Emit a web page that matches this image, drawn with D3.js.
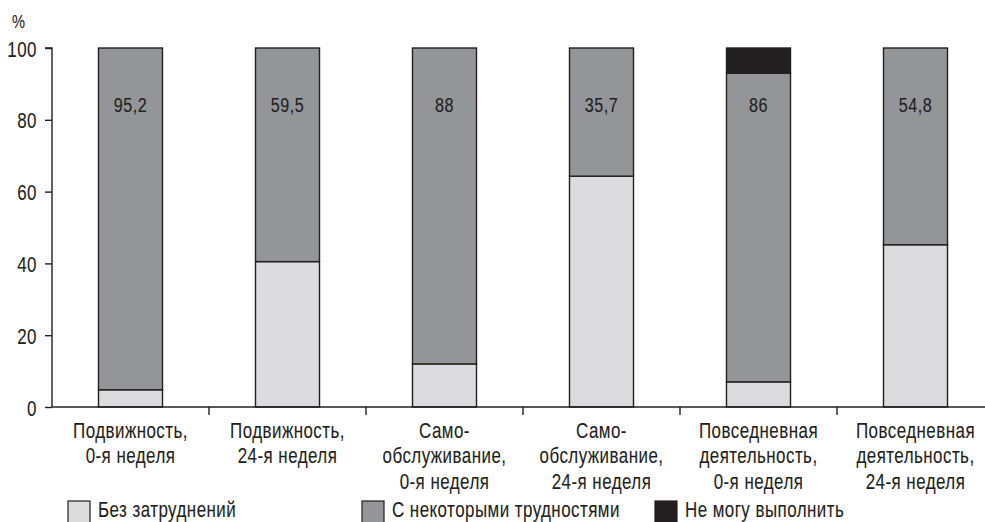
<!DOCTYPE html>
<html>
<head>
<meta charset="utf-8">
<script src="https://cdn.jsdelivr.net/npm/d3@7"></script>
<style>
  html, body { margin: 0; padding: 0; background: #fff; }
  svg text { font-family: "Liberation Sans", Arial, sans-serif; fill: #231f20; stroke: #231f20; stroke-width: 0.12px; letter-spacing: 0.6px; }
</style>
</head>
<body>
<svg id="chart" width="985" height="522"></svg>
<script>
// Categories (multi-line axis labels)
const categories = [
  ["Подвижность,", "0-я неделя"],
  ["Подвижность,", "24-я неделя"],
  ["Само-", "обслуживание,", "0-я неделя"],
  ["Само-", "обслуживание,", "24-я неделя"],
  ["Повседневная", "деятельность,", "0-я неделя"],
  ["Повседневная", "деятельность,", "24-я неделя"]
];
// Shares of patients, %
const noDifficulty   = [4.8, 40.5, 12, 64.3, 7, 45.2];
const someDifficulty = [95.2, 59.5, 88, 35.7, 86, 54.8];
const unable         = [0, 0, 0, 0, 7, 0];
const seriesNames = ["Без затруднений", "С некоторыми трудностями", "Не могу выполнить"];
const seriesColors = ["#dcdcde", "#939598", "#231f20"];
const yTicks = [0, 20, 40, 60, 80, 100];

const svg = d3.select("#chart");
const W = 985;
const plotLeft = 52, plotTop = 48, plotBottom = 407;
const ink = "#231f20";
const SX = 0.77; // narrow face: horizontal condensing of the type

// Place a text at (x, y) using a transform so it can be condensed horizontally
function condense(sel) {
  sel.each(function () {
    const t = d3.select(this);
    const tx = +t.attr("x") || 0, ty = +t.attr("y") || 0;
    t.attr("x", 0).attr("y", 0)
      .attr("transform", `translate(${tx},${ty}) scale(${SX},1)`);
    t.selectAll("tspan").attr("x", 0);
  });
}

const x = d3.scaleBand()
  .domain(d3.range(categories.length))
  .range([plotLeft, plotLeft + 157 * categories.length]);
const y = d3.scaleLinear().domain([0, 100]).range([plotBottom, plotTop]);

// Stacked data
const rows = categories.map((c, i) => ({ i, a: noDifficulty[i], b: someDifficulty[i], c: unable[i] }));
const stack = d3.stack().keys(["a", "b", "c"])(rows);

const barW = 64;
const g = svg.append("g");
stack.forEach((layer, k) => {
  g.selectAll(null).data(layer.filter(d => d[1] - d[0] > 0)).enter().append("rect")
    .attr("x", d => x(d.data.i) + x.bandwidth() / 2 - barW / 2)
    .attr("y", d => y(d[1]))
    .attr("width", barW)
    .attr("height", d => y(d[0]) - y(d[1]))
    .attr("fill", seriesColors[k])
    .attr("stroke", ink)
    .attr("stroke-width", 1.4);
});

// Value labels for the middle series, set at a common level
const labelLevel = 84;
const fmt = v => String(v).replace(".", ",");
svg.selectAll(null).data(rows).enter().append("text")
  .attr("x", d => x(d.i) + x.bandwidth() / 2)
  .attr("y", y(labelLevel) + 7)
  .attr("text-anchor", "middle")
  .attr("font-size", 21)
  .text(d => fmt(d.b))
  .call(condense);

// Y axis
const yAxis = d3.axisLeft(y).tickValues(yTicks).tickSize(7).tickPadding(8);
const yg = svg.append("g").attr("transform", `translate(${plotLeft},0)`).call(yAxis);
yg.attr("font-family", null).attr("font-size", null);
yg.select(".domain").attr("stroke", ink).attr("stroke-width", 1.4)
  .attr("d", `M-7,${y(100)}H0V${plotBottom}`);
yg.selectAll(".tick line").attr("stroke", ink).attr("stroke-width", 1.4);
yg.selectAll(".tick text")
  .attr("font-size", 22).attr("fill", ink).attr("dy", null)
  .attr("y", 8)
  .call(condense);

svg.append("text").attr("x", 12).attr("y", 28).attr("font-size", 19).text("%").call(condense);

// X axis: baseline with separators between categories
svg.append("line")
  .attr("x1", plotLeft).attr("x2", W)
  .attr("y1", plotBottom).attr("y2", plotBottom)
  .attr("stroke", ink).attr("stroke-width", 1.4);
svg.selectAll(null).data(d3.range(1, categories.length)).enter().append("line")
  .attr("x1", i => x(i)).attr("x2", i => x(i))
  .attr("y1", plotBottom).attr("y2", plotBottom + 8)
  .attr("stroke", ink).attr("stroke-width", 1.4);

const cat = svg.selectAll(null).data(categories).enter().append("text")
  .attr("x", (d, i) => x(i) + x.bandwidth() / 2)
  .attr("y", 438)
  .attr("text-anchor", "middle")
  .attr("font-size", 22);
cat.selectAll("tspan").data(d => d).enter().append("tspan")
  .attr("x", 0)
  .attr("dy", (d, j) => j === 0 ? 0 : 25.5)
  .text(d => d);
cat.call(condense);

// Legend
const legendX = [68, 362, 655];
const lg = svg.selectAll(null).data(seriesNames).enter().append("g")
  .attr("transform", (d, i) => `translate(${legendX[i]},501)`);
lg.append("rect").attr("width", 22).attr("height", 22)
  .attr("fill", (d, i) => seriesColors[i]).attr("stroke", ink).attr("stroke-width", 1.2);
lg.append("text").attr("x", 30).attr("y", 16).attr("font-size", 22).text(d => d).call(condense);
</script>
</body>
</html>
